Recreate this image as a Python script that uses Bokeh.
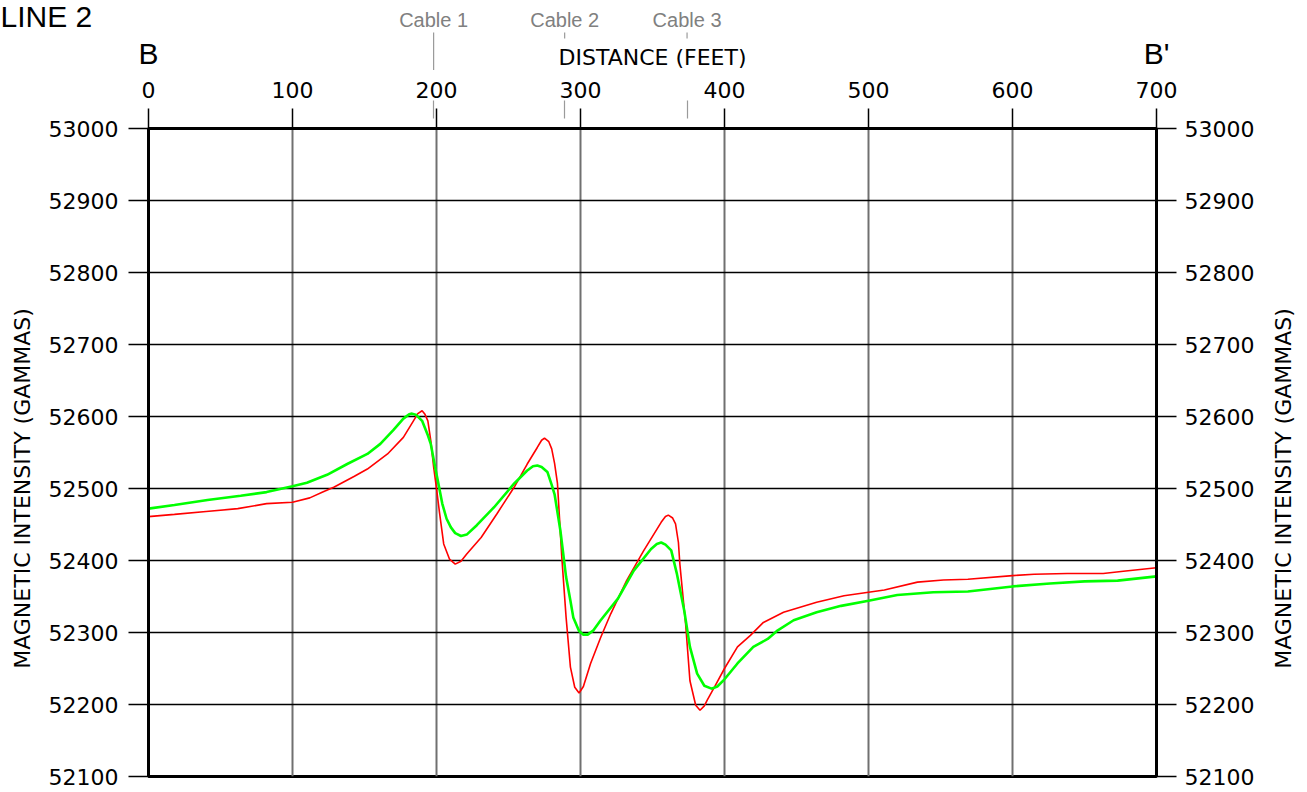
from math import pi

from bokeh.plotting import figure
from bokeh.layouts import column, row
from bokeh.models import FixedTicker, LinearAxis, Range1d
from bokeh.core.properties import value
from bokeh.embed import file_html
from bokeh.resources import INLINE

# ---------------- data ----------------
red_distance = [0, 18, 40, 62, 82, 100, 112, 121, 129, 143, 152, 166, 177, 184, 187, 190,
                192, 194, 196, 198, 200, 202, 205, 209, 213, 217, 221, 231, 242, 254, 263,
                270, 273, 275, 278, 280, 282, 284, 287, 290, 293, 296, 299, 302, 307, 314,
                321, 332, 344, 356, 359, 361, 364, 366, 368, 369, 373, 376, 380, 383, 386,
                388, 393, 400, 409, 418, 427, 441, 464, 483, 500, 511, 534, 552, 569, 600,
                615, 638, 663, 677, 700]
red_intensity = [52461, 52464, 52468, 52472, 52479, 52481, 52487, 52495, 52502, 52517, 52527,
                 52548, 52571, 52594, 52604, 52608, 52603, 52594, 52567, 52530, 52500, 52468,
                 52423, 52402, 52395, 52399, 52409, 52432, 52465, 52502, 52534, 52557, 52567,
                 52570, 52565, 52555, 52535, 52507, 52405, 52321, 52252, 52224, 52216, 52225,
                 52257, 52293, 52326, 52372, 52414, 52453, 52461, 52463, 52459, 52451, 52425,
                 52395, 52312, 52233, 52199, 52192, 52198, 52206, 52224, 52250, 52280, 52296,
                 52314, 52328, 52342, 52351, 52356, 52359, 52370, 52373, 52374, 52379, 52381,
                 52382, 52382, 52385, 52390]

green_distance = [0, 18, 41, 64, 82, 100, 110, 124, 138, 152, 161, 170, 177, 181, 183, 186,
                  190, 194, 196, 199, 201, 204, 207, 210, 213, 217, 221, 228, 240, 254, 263,
                  267, 270, 273, 277, 280, 282, 286, 290, 293, 295, 299, 302, 305, 309, 314,
                  326, 337, 349, 353, 356, 359, 363, 367, 372, 376, 381, 386, 391, 395, 400,
                  409, 420, 430, 437, 448, 464, 481, 500, 520, 545, 569, 600, 626, 650, 673,
                  700]
green_intensity = [52472, 52477, 52484, 52490, 52495, 52503, 52508, 52519, 52534, 52548, 52562,
                   52581, 52597, 52603, 52604, 52602, 52594, 52574, 52562, 52530, 52510, 52479,
                   52458, 52446, 52438, 52434, 52436, 52449, 52474, 52507, 52525, 52531, 52532,
                   52530, 52523, 52505, 52492, 52442, 52377, 52344, 52321, 52302, 52297, 52297,
                   52303, 52317, 52347, 52386, 52416, 52423, 52425, 52422, 52414, 52381, 52331,
                   52280, 52243, 52226, 52222, 52225, 52235, 52257, 52280, 52291, 52303, 52317,
                   52328, 52337, 52344, 52352, 52356, 52357, 52364, 52368, 52371, 52372, 52378]

x_ticks = [0, 100, 200, 300, 400, 500, 600, 700]
y_ticks = [52100, 52200, 52300, 52400, 52500, 52600, 52700, 52800, 52900, 53000]

cable_names = ["Cable 1", "Cable 2", "Cable 3"]
cable_positions = [198, 289, 374]

end_names = ["B", "B'"]
end_positions = [0, 700]

title_text = "LINE 2"
x_title = "DISTANCE (FEET)"
y_title = "MAGNETIC INTENSITY (GAMMAS)"

# ---------------- layout constants (pixels) ----------------
TICK_FONT = "DejaVu Sans"
LABEL_FONT = "Liberation Sans"
MAIN_TOP = 58                 # main figure top border (axis area)
TOP_H = 128 - MAIN_TOP        # header strip height
FRAME_W, FRAME_H = 1008, 648
LEFT_W, RIGHT_W = 44, 42
MAIN_LEFT, MAIN_RIGHT, MAIN_BOTTOM = 104, 109, 16
MAIN_W = MAIN_LEFT + FRAME_W + MAIN_RIGHT
MAIN_H = MAIN_TOP + FRAME_H + MAIN_BOTTOM
TOTAL_W = LEFT_W + MAIN_W + RIGHT_W

x_min, x_max = 0, 700
px_per_ft = FRAME_W / (x_max - x_min)
frame_left_px = LEFT_W + MAIN_LEFT
hdr_x0 = x_min - frame_left_px / px_per_ft
hdr_x1 = hdr_x0 + TOTAL_W / px_per_ft


def bare(fig):
    fig.background_fill_color = "white"
    fig.border_fill_color = "white"
    fig.outline_line_color = None
    fig.xgrid.visible = False
    fig.ygrid.visible = False
    return fig


# ---------------- header strip (shares the distance scale) ----------------
top = bare(figure(width=TOTAL_W, height=TOP_H, title=None,
                  x_range=Range1d(hdr_x0, hdr_x1),
                  y_range=Range1d(TOP_H, 0),   # pixel rows from the top, flipped
                  x_axis_location=None, y_axis_location=None, min_border=0,
                  output_backend="svg", toolbar_location=None))

# cable marker lines (interrupted where the distance title sits)
top.segment(x0=cable_positions, y0=[32, 32, 32],
            x1=cable_positions, y1=[TOP_H, 38, 38],
            line_color="#9a9a9a", line_width=1.2)
# texts: y is the vertical centre of the capital letters
top.text(x=cable_positions, y=[19.5] * 3, text=cable_names,
         text_font=value(LABEL_FONT), text_font_size=value("20px"),
         text_color="#808080", text_align="center", text_baseline="middle")
top.text(x=[hdr_x0], y=[16], text=[title_text],
         text_font=value(LABEL_FONT), text_font_size=value("30px"),
         text_color="black", text_align="left", text_baseline="middle")
top.text(x=end_positions, y=[53, 53], text=end_names,
         text_font=value(LABEL_FONT), text_font_size=value("30px"),
         text_color="black", text_align="center", text_baseline="middle")
top.text(x=[(x_min + x_max) / 2], y=[57], text=[x_title],
         text_font=value(TICK_FONT), text_font_size=value("22px"),
         text_color="black", text_align="center", text_baseline="middle")

# ---------------- main chart ----------------
p = figure(width=MAIN_W, height=MAIN_H, title=None,
           x_range=Range1d(x_min, x_max), y_range=Range1d(52100, 53000),
           x_axis_location="above",
           output_backend="svg", toolbar_location=None,
           min_border_left=MAIN_LEFT, min_border_right=MAIN_RIGHT,
           min_border_top=MAIN_TOP, min_border_bottom=MAIN_BOTTOM)
p.background_fill_color = "white"
p.border_fill_color = "white"
p.outline_line_color = "black"
p.outline_line_width = 3

xaxis = p.xaxis[0]
xaxis.ticker = FixedTicker(ticks=x_ticks, minor_ticks=cable_positions)
xaxis.major_label_text_font = TICK_FONT
xaxis.major_label_text_font_size = "22px"
xaxis.major_label_text_color = "black"
xaxis.major_label_standoff = 3
xaxis.axis_line_color = "black"
xaxis.axis_line_width = 3
xaxis.major_tick_in = 0
xaxis.major_tick_out = 20
xaxis.major_tick_line_color = "black"
xaxis.major_tick_line_width = 1.5
xaxis.minor_tick_in = -10
xaxis.minor_tick_out = 28
xaxis.minor_tick_line_color = "#9a9a9a"
xaxis.minor_tick_line_width = 1.2


def style_y(ax, standoff):
    ax.ticker = FixedTicker(ticks=y_ticks)
    ax.major_label_text_font = TICK_FONT
    ax.major_label_text_font_size = "22px"
    ax.major_label_text_color = "black"
    ax.major_label_standoff = standoff
    ax.axis_line_color = "black"
    ax.axis_line_width = 3
    ax.major_tick_in = 0
    ax.major_tick_out = 20
    ax.major_tick_line_color = "black"
    ax.major_tick_line_width = 1.5
    ax.minor_tick_line_color = None


style_y(p.yaxis[0], 10)
right_axis = LinearAxis()
style_y(right_axis, 8)
p.add_layout(right_axis, "right")

p.xgrid.grid_line_color = "#707070"
p.xgrid.grid_line_width = 2
p.ygrid.grid_line_color = "black"
p.ygrid.grid_line_width = 1.3

p.line(red_distance, red_intensity, line_color="#ff0000", line_width=1.6)
p.line(green_distance, green_intensity, line_color="#00ff00", line_width=2.6)


# ---------------- side strips with the vertical axis titles ----------------
def side(width, xpos):
    s = bare(figure(width=width, height=MAIN_H, title=None,
                    x_range=Range1d(0, width), y_range=p.y_range,
                    x_axis_location=None, y_axis_location=None,
                    min_border_left=0, min_border_right=0,
                    min_border_top=MAIN_TOP, min_border_bottom=MAIN_BOTTOM,
                    output_backend="svg", toolbar_location=None))
    s.text(x=[xpos], y=[52500], text=[y_title], angle=pi / 2,
           text_font=value(TICK_FONT), text_font_size=value("22px"),
           text_color="black", text_align="center", text_baseline="middle")
    return s


left = side(LEFT_W, 22)
right = side(RIGHT_W, 18)

layout = column(top, row(left, p, right, spacing=0), spacing=0)
open("out.html", "w").write(file_html(layout, INLINE))
